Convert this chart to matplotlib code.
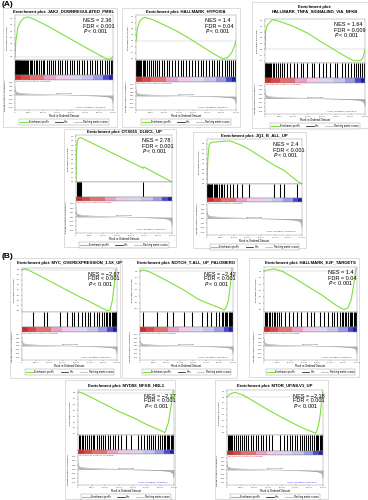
import matplotlib
matplotlib.use('Agg')
import matplotlib.pyplot as plt
from matplotlib.patches import Rectangle
from matplotlib.lines import Line2D

plt.rcParams['font.family'] = ['Liberation Sans', 'DejaVu Sans']

W, H = 368, 500
N = 35000

# ranked list metric (shared by every plot)
rank_x = [0, 100, 300, 800, 2000, 5000, 10000, 17500, 25000, 30000, 33000, 34300, 34800, 35000]
rank_y = [0.45, 0.3, 0.2, 0.14, 0.1, 0.06, 0.03, 0.0, -0.03, -0.06, -0.1, -0.18, -0.3, -0.5]

# colour bands of the ranked list (fraction of list)
band_edges = [0, 0.06, 0.15, 0.3, 0.42, 0.55, 0.68, 0.8, 0.9, 0.96, 1.0]
band_colors = ['#c92a2a', '#d94848', '#e27070', '#e8a0c8', '#f0c8e8',
               '#ddd4f2', '#c4c4ee', '#9a9ae4', '#4a4ad0', '#1c1cb4']

titles = ['Enrichment plot: JAK2_DOWNREGULATED_PMBL',
          'Enrichment plot: HALLMARK_HYPOXIA',
          'Enrichment plot:\nHALLMARK_TNFA_SIGNALING_VIA_NFKB',
          'Enrichment plot: OTX015_DLBCL_UP',
          'Enrichment plot: JQ1_B_ALL_UP',
          'Enrichment plot: MYC_OVEREXPRESSION_1.5X_UP',
          'Enrichment plot: NOTCH_T-ALL_UP_PALOMERO',
          'Enrichment plot: HALLMARK_E2F_TARGETS',
          'Enrichment plot: MYD88_NFKB_HBL1',
          'Enrichment plot: MTOR_UP.N4.V1_UP']
nes_vals = ['2.36', '1.4', '1.64', '2.78', '2.4', '\u22122.67', '\u22122.42', '1.4', '\u22122.17', '\u22122.18']
fdr_vals = ['< 0.001', '= 0.04', '= 0.009', '< 0.001', '< 0.001',
            '< 0.001', '< 0.001', '= 0.04', '< 0.001', '< 0.001']

# running enrichment scores (rank, ES)
es_jak2_x = [0, 300, 1000, 1800, 3000, 4600, 7000, 12000, 18500, 25000, 30000, 32500, 34000, 35000]
es_jak2_y = [0, 0.25, 0.45, 0.53, 0.6, 0.62, 0.58, 0.47, 0.31, 0.15, 0.03, -0.03, -0.04, 0.0]
es_hyp_x = [0, 500, 1200, 2200, 3150, 6000, 10000, 14350, 19000, 24000, 28000, 30450, 32000, 33500, 34500, 35000]
es_hyp_y = [0, 0.2, 0.32, 0.37, 0.39, 0.35, 0.26, 0.16, 0.03, -0.12, -0.24, -0.3, -0.28, -0.2, -0.08, 0.0]
es_tnf_x = [0, 200, 800, 1800, 2800, 5000, 10000, 15000, 20000, 25000, 29000, 31000, 33500, 34300, 35000]
es_tnf_y = [0, 0.3, 0.42, 0.48, 0.52, 0.49, 0.4, 0.28, 0.12, -0.03, -0.15, -0.2, -0.2, -0.15, 0.0]
es_otx_x = [0, 150, 400, 800, 1600, 2200, 24600, 24700, 35000]
es_otx_y = [0, 0.6, 0.85, 0.95, 0.97, 0.96, 0.3, 0.33, 0.0]
es_jq1_x = [0, 300, 800, 1500, 3000, 5000, 7200, 8600, 9600, 11000, 12900, 15300, 24600, 27000, 28200, 33200, 35000]
es_jq1_y = [0, 0.5, 0.78, 0.83, 0.84, 0.85, 0.86, 0.86, 0.84, 0.81, 0.77, 0.7, 0.38, 0.31, 0.28, 0.06, 0.0]
es_myc_x = [0, 1500, 5000, 10000, 15000, 20000, 25000, 29000, 31300, 32500, 33300, 34000, 34500]
es_myc_y = [0, 0.01, -0.08, -0.22, -0.36, -0.5, -0.63, -0.74, -0.8, -0.79, -0.6, -0.3, 0.0]
es_notch_x = [0, 1100, 3000, 6400, 10000, 16500, 22000, 26000, 29700, 31600, 32500, 33300, 34000, 34600]
es_notch_y = [0, 0.02, 0.0, -0.07, -0.15, -0.3, -0.45, -0.52, -0.58, -0.62, -0.58, -0.45, -0.22, 0.04]
es_e2f_x = [0, 1000, 3800, 7000, 12000, 17000, 22000, 26000, 28500, 30100, 31500, 32800, 33800, 34600]
es_e2f_y = [0, 0.02, 0.04, 0.0, -0.12, -0.25, -0.38, -0.5, -0.57, -0.6, -0.58, -0.45, -0.2, 0.05]
es_myd_x = [0, 1500, 5000, 10000, 15000, 20000, 25000, 29000, 31700, 33000, 34000, 34800]
es_myd_y = [0.02, 0.0, -0.08, -0.2, -0.32, -0.42, -0.54, -0.62, -0.68, -0.5, -0.2, 0.05]
es_mtor_x = [0, 1000, 2900, 6000, 10000, 15000, 20000, 25000, 29000, 32400, 33300, 34000, 34600, 35000]
es_mtor_y = [0, 0.05, 0.08, 0.03, -0.08, -0.22, -0.35, -0.47, -0.56, -0.62, -0.5, -0.3, 0.0, 0.1]

# gene set hits (rank in thousands)
hits_jak2 = [0.1, 0.3, 0.5, 0.7, 0.9, 1.1, 1.3, 1.6, 1.9, 2.2, 2.5, 2.8, 3.1, 3.5, 3.9, 4.3, 4.8, 5.3,
             5.8, 6.2, 6.8, 7.4, 8.0, 8.5, 9.2, 9.9, 10.5, 11.3, 12.0, 12.8, 13.5, 14.4, 15.2, 16.0,
             16.9, 17.8, 18.6, 19.5, 20.3, 21.2, 22.0, 23.0, 24.0, 24.8, 25.8, 26.7, 27.6, 28.5, 29.4,
             30.3, 31.2, 32.0, 32.8, 33.5, 34.2, 34.8]
hits_hyp = [0.1, 0.4, 0.7, 1.0, 1.4, 1.8, 2.3, 2.8, 3.3, 3.9, 4.5, 5.2, 5.9, 6.6, 7.4, 8.2, 9.0, 9.9,
            10.8, 11.7, 12.6, 13.6, 14.6, 15.6, 16.6, 17.6, 18.6, 19.6, 20.6, 21.6, 22.6, 23.6, 24.6,
            25.6, 26.5, 27.4, 28.3, 29.2, 30.1, 31.0, 31.8, 32.6, 33.3, 34.0, 34.6]
hits_tnf = [0.1, 0.3, 0.5, 0.8, 1.1, 1.4, 1.8, 2.2, 2.7, 3.2, 3.8, 4.4, 5.1, 5.9, 6.8, 7.7, 8.8, 10.0,
            11.2, 12.5, 13.4, 14.8, 16.5, 17.3, 18.9, 20.4, 21.2, 22.9, 24.5, 25.3, 26.8, 28.0, 29.1,
            30.2, 31.0, 31.9, 32.6, 33.3, 34.0, 34.6]
hits_otx = [0.2, 0.4, 0.6, 0.8, 1.0, 1.2, 1.4, 1.6, 1.8, 2.0, 24.6]
hits_jq1 = [0.1, 0.3, 0.5, 0.7, 0.9, 1.1, 1.4, 1.7, 2.0, 2.4, 2.8, 3.3, 3.8, 4.4, 5.0, 5.7, 6.4, 7.2,
            8.6, 9.6, 11.0, 12.9, 15.3, 24.6, 27.0, 28.2, 33.2]
hits_myc = [4.0, 8.0, 9.2, 14.0, 16.5, 18.4, 19.2, 20.5, 22.0, 23.3, 24.2, 25.0, 26.4, 27.6, 28.2,
            29.5, 30.3, 31.0, 31.5, 32.0, 32.5, 33.1, 33.5, 33.8, 34.2, 34.6, 34.8]
hits_notch = [1.1, 6.4, 10.0, 12.4, 16.5, 19.6, 23.3, 25.2, 26.7, 28.6, 29.7, 30.9, 31.4, 31.9,
              32.4, 32.9, 33.4, 33.9, 34.3, 34.6]
hits_e2f = [0.3, 0.8, 1.3, 1.8, 2.4, 3.0, 3.6, 4.3, 5.0, 5.8, 6.5, 8.0, 9.5, 11.0, 12.5, 14.0, 16.0,
            17.5, 19.0, 21.0, 22.5, 24.0, 25.5, 26.5, 27.5, 28.5, 29.2, 29.8, 30.4, 31.0, 31.6, 32.2,
            32.7, 33.2, 33.7, 34.2, 34.7]
hits_myd = [0.3, 0.8, 1.4, 2.0, 2.6, 3.2, 3.9, 4.6, 5.3, 6.0, 6.8, 7.6, 8.4, 9.2, 10.0, 10.9, 11.8,
            12.7, 13.6, 14.6, 15.8, 17.5, 19.5, 22.0, 23.0, 24.0, 25.0, 25.8, 26.6, 27.4, 28.2, 29.0,
            29.8, 30.5, 31.2, 31.8, 32.3, 32.8, 33.3, 33.8, 34.2, 34.6]
hits_mtor = [0.2, 0.6, 1.0, 1.5, 2.0, 2.6, 3.2, 3.9, 4.6, 5.3, 6.1, 6.9, 7.7, 8.6, 9.5, 10.4, 11.3,
             12.3, 13.3, 14.3, 15.4, 16.5, 19.5, 20.8, 21.8, 22.8, 23.8, 24.7, 25.6, 26.5, 27.3, 28.1,
             28.9, 29.7, 30.4, 31.1, 31.7, 32.3, 32.8, 33.3, 33.8, 34.2, 34.6]

es_curves = [(es_jak2_x, es_jak2_y), (es_hyp_x, es_hyp_y), (es_tnf_x, es_tnf_y),
             (es_otx_x, es_otx_y), (es_jq1_x, es_jq1_y), (es_myc_x, es_myc_y),
             (es_notch_x, es_notch_y), (es_e2f_x, es_e2f_y), (es_myd_x, es_myd_y),
             (es_mtor_x, es_mtor_y)]
hit_sets = [hits_jak2, hits_hyp, hits_tnf, hits_otx, hits_jq1,
            hits_myc, hits_notch, hits_e2f, hits_myd, hits_mtor]
es_ylims = [(-0.05, 0.65), (-0.32, 0.43), (-0.24, 0.53), (0, 1.03), (0, 0.9),
            (-0.83, 0.03), (-0.65, 0.05), (-0.64, 0.07), (-0.72, 0.05), (-0.65, 0.12)]
es_ticks = [[0, 0.1, 0.2, 0.3, 0.4, 0.5, 0.6],
            [-0.3, -0.2, -0.1, 0, 0.1, 0.2, 0.3, 0.4],
            [-0.2, -0.1, 0, 0.1, 0.2, 0.3, 0.4, 0.5],
            [0, 0.1, 0.2, 0.3, 0.4, 0.5, 0.6, 0.7, 0.8, 0.9, 1.0],
            [0, 0.1, 0.2, 0.3, 0.4, 0.5, 0.6, 0.7, 0.8],
            [-0.8, -0.7, -0.6, -0.5, -0.4, -0.3, -0.2, -0.1, 0],
            [-0.6, -0.5, -0.4, -0.3, -0.2, -0.1, 0],
            [-0.6, -0.5, -0.4, -0.3, -0.2, -0.1, 0],
            [-0.7, -0.6, -0.5, -0.4, -0.3, -0.2, -0.1, 0],
            [-0.6, -0.5, -0.4, -0.3, -0.2, -0.1, 0, 0.1]]

# panel layout in pixels:
# frame x0,y0,x1,y1 | plot x0,x1 | ES top, ES bottom, hits bottom, bar bottom, metric bottom | title y
layout = [(3, 8, 117, 127, 15, 113, 15, 60, 75, 80, 110, 11.5),
          (122, 8, 240, 127, 136, 236, 15, 60, 77, 82, 110, 11.5),
          (252, 2, 368, 128, 265, 365, 19, 63, 78, 83, 114, 9.5),
          (64, 129, 176, 247, 76, 172, 135, 182, 197, 201, 233, 131.5),
          (193, 132, 306, 248, 207, 302, 139, 184, 198, 202, 235, 135.5),
          (10, 258, 120, 378, 22, 117, 268, 312, 327, 332, 360, 263),
          (122, 258, 237, 378, 140, 233, 268, 312, 327, 332, 360, 263),
          (249, 258, 359, 377, 264, 357, 267, 312, 327, 332, 360, 263),
          (65, 380, 175, 499, 78, 174, 390, 435, 450, 454, 485, 386),
          (215, 380, 328, 499, 227, 323, 390, 435, 451, 455, 485, 386)]


def box(x0, y0, x1, y1):
    return [x0 / W, 1 - y1 / H, (x1 - x0) / W, (y1 - y0) / H]


def style(ax):
    for s in ax.spines.values():
        s.set_linewidth(0.3)
        s.set_color('#888888')
    ax.tick_params(length=1, width=0.3, pad=0.5, labelsize=1.6, colors='#444444')


def draw_panel(fig, i):
    fx0, fy0, fx1, fy1, x0, x1, e0, e1, h1, c1, r1, ty = layout[i]
    fig.add_artist(Rectangle((fx0 / W, 1 - fy1 / H), (fx1 - fx0) / W, (fy1 - fy0) / H,
                             transform=fig.transFigure, fc='white', ec='#cfcfcf', lw=0.5, zorder=0))
    fig.text((x0 + x1) / 2 / W, 1 - ty / H, titles[i], ha='center', va='center',
             fontsize=3.1, fontweight='bold', linespacing=1.2)

    # enrichment score
    ax = fig.add_axes(box(x0, e0, x1, e1))
    ex, ey = es_curves[i]
    ax.axhline(0, color='#c0c0c0', lw=0.3)
    ax.plot(ex, ey, color='#7ee03a', lw=0.8)
    ax.set_xlim(0, N)
    ax.set_ylim(es_ylims[i])
    ax.set_xticks([])
    ax.set_yticks(es_ticks[i])
    ax.set_yticklabels(['%.1f' % t for t in es_ticks[i]])
    ax.set_ylabel('Enrichment score (ES)', fontsize=1.7, labelpad=1)
    style(ax)
    tx = x0 + 0.69 * (x1 - x0)
    fig.text(tx / W, 1 - (e0 + 6) / H, 'NES = ' + nes_vals[i], fontsize=4.0, va='center')
    fig.text(tx / W, 1 - (e0 + 11) / H, 'FDR ' + fdr_vals[i], fontsize=4.0, va='center')
    fig.text(tx / W, 1 - (e0 + 16) / H, '$\\it{P}$ < 0.001', fontsize=4.0, va='center')

    # hits
    ah = fig.add_axes(box(x0, e1, x1, h1))
    ah.vlines([h * 1000 for h in hit_sets[i]], 0, 1, color='black', lw=0.75)
    ah.set_xlim(0, N)
    ah.set_ylim(0, 1)
    ah.set_xticks([])
    ah.set_yticks([])
    style(ah)

    # ranked list colour bar
    ac = fig.add_axes(box(x0, h1, x1, c1))
    for k in range(len(band_colors)):
        ac.axvspan(band_edges[k] * N, band_edges[k + 1] * N, color=band_colors[k], lw=0)
    ac.set_xlim(0, N)
    ac.set_xticks([])
    ac.set_yticks([])
    style(ac)

    # ranked list metric
    ar = fig.add_axes(box(x0, c1, x1, r1))
    ar.fill_between(rank_x, rank_y, 0, color='#b4b4b4', lw=0)
    ar.plot(rank_x, rank_y, color='#999999', lw=0.3)
    ar.set_xlim(0, N)
    ar.set_ylim(-0.9, 0.9)
    rt = [-0.75, -0.5, -0.25, 0, 0.25, 0.5, 0.75]
    ar.set_yticks(rt)
    ar.set_yticklabels(['%.2f' % t for t in rt])
    xt = [0, 5000, 10000, 15000, 20000, 25000, 30000, 35000]
    ar.set_xticks(xt)
    ar.set_xticklabels(['{:,}'.format(t) for t in xt])
    ar.set_xlabel('Rank in Ordered Dataset', fontsize=2.0, labelpad=0.5)
    ar.set_ylabel('Ranked list metric (Signal2Noise)', fontsize=1.5, labelpad=1)
    ar.text(0.01, 0.98, "'MYC/DMSO' (positively correlated)", transform=ar.transAxes,
            fontsize=1.6, color='#dd2222', va='top')
    ar.text(0.62, 0.1, "'CTRL' (negatively correlated)", transform=ar.transAxes,
            fontsize=1.6, color='#3333ff', va='center')
    ar.text(17500, 0.04, 'Zero cross at 17500', fontsize=1.3, ha='center', va='bottom', color='#333333')
    style(ar)

    handles = [Line2D([], [], color='#7ee03a', lw=0.8),
               Line2D([], [], color='black', lw=0.5),
               Line2D([], [], color='#aaaaaa', lw=0.5)]
    fig.legend(handles, ['Enrichment profile', 'Hits', 'Ranking metric scores'],
               loc='center', bbox_to_anchor=((x0 + x1) / 2 / W, 1 - (r1 + 12) / H),
               ncol=3, fontsize=1.8, frameon=True, fancybox=False, edgecolor='#777777',
               borderpad=0.4, handlelength=3, columnspacing=2.5, handletextpad=0.5).get_frame().set_linewidth(0.3)


fig = plt.figure(figsize=(W / 100, H / 100), dpi=100)
for i in range(len(titles)):
    draw_panel(fig, i)
fig.text(2 / W, 1 - 4 / H, '(A)', fontsize=6, fontweight='bold', va='center')
fig.text(2 / W, 1 - 257 / H, '(B)', fontsize=6, fontweight='bold', va='center')
fig.savefig('out.png', dpi=100)
